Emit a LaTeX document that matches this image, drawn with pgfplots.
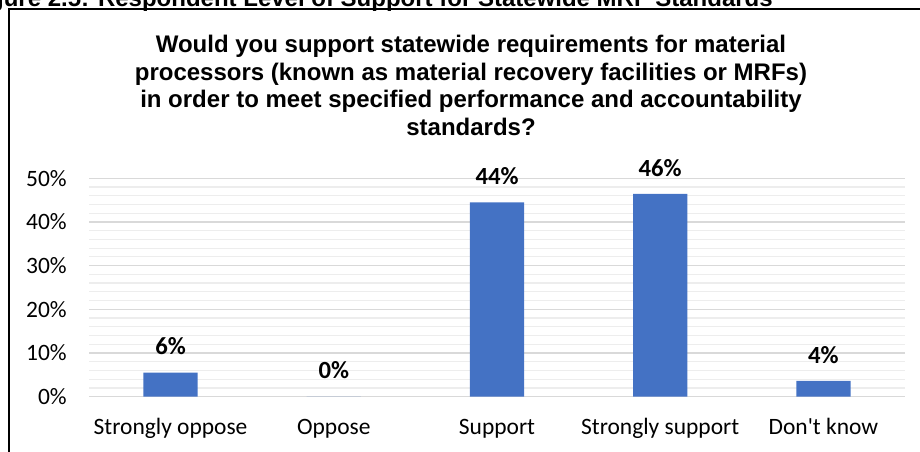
\documentclass[border=0pt]{standalone}
\usepackage{pgfplots}
\pgfplotsset{compat=1.18}
\usepackage{fontspec}
\setmainfont{Carlito}
\newfontfamily\arialfont{Liberation Sans}
\definecolor{barblue}{HTML}{4472C4}
\definecolor{majgrid}{HTML}{D9D9D9}
\definecolor{mingrid}{HTML}{EDEDED}

\begin{document}
\begin{tikzpicture}
\useasboundingbox (0,0) rectangle (690pt,339pt);
\begin{axis}[
  at={(66.75pt,41.5pt)}, anchor=south west,
  scale only axis, width=612pt, height=163.8pt,
  xmin=-0.5, xmax=4.5, ymin=0, ymax=50,
  axis line style={draw=none},
  ytick={0,10,20,30,40,50},
  yticklabels={0\%,10\%,20\%,30\%,40\%,50\%},
  minor y tick num=4,
  ymajorgrids, yminorgrids,
  major grid style={majgrid, line width=0.9pt},
  minor grid style={mingrid, line width=0.9pt},
  xtick={0,...,4},
  xticklabels={Strongly oppose, Oppose, Support, Strongly support, Don\textquotesingle t know},
  tick style={draw=none},
  major tick length=0pt, minor tick length=0pt,
  tick label style={font=\fontsize{17.6}{20}\selectfont, text=black},
  xticklabel style={anchor=base, yshift=-28.7pt, inner sep=0pt},
  yticklabel style={anchor=east, xshift=-16.5pt, inner sep=0pt},
  ybar, bar width=40.7pt,
  nodes near coords, point meta=explicit symbolic,
  every node near coord/.append style={font=\bfseries\fontsize{18.5}{20}\selectfont, anchor=base, yshift=13.3pt, inner sep=0pt, text=black},
  clip=false,
]
\addplot[fill=barblue, draw=none] coordinates {(0,5.5)[6\%] (1,0)[0\%] (2,44.5)[44\%] (3,46.4)[46\%] (4,3.6)[4\%]};
\end{axis}
\draw[line width=1.3pt] (6.75pt,-5pt) -- (6.75pt,332.25pt) -- (700pt,332.25pt);
\node[font=\arialfont\bfseries\fontsize{18}{20}\selectfont, anchor=base east, inner sep=0pt] at (579.75pt,334.1pt) {Figure 2.5: Respondent Level of Support for Statewide MRF Standards};
\begin{scope}[every node/.style={font=\arialfont\bfseries\fontsize{18}{20}\selectfont, anchor=base, inner sep=0pt}]
\node at (353.25pt,299.25pt) {Would you support statewide requirements for material};
\node at (353.25pt,278.25pt) {processors (known as material recovery facilities or MRFs)};
\node at (353.25pt,258pt) {in order to meet specified performance and accountability};
\node at (353.25pt,237pt) {standards?};
\end{scope}
\end{tikzpicture}
\end{document}
